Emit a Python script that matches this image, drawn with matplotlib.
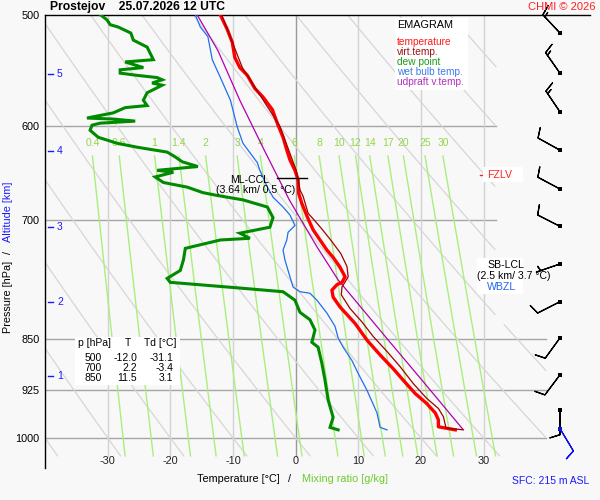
import numpy as np
import matplotlib
matplotlib.use('Agg')
import matplotlib.pyplot as plt
from matplotlib.patches import Rectangle
from matplotlib.ticker import NullLocator

plt.rcParams['font.family'] = ['Liberation Sans', 'DejaVu Sans']

# ---------------- data ----------------
temp_p = [500, 512, 523, 536, 545, 552, 564, 572, 584, 599, 611, 624, 634, 645, 655, 670, 681, 700, 711, 723,
          735, 744, 756, 768, 775, 778, 785, 794, 807, 829, 852, 873, 893, 910, 930, 945, 960, 971, 982, 985, 987]
temp_t = [-12.0, -10.9, -10.1, -9.7, -8.9, -7.7, -6.5, -5.2, -3.7, -2.8, -2.0, -1.4, -0.9, -0.1, 0.4, 0.5, 1.0, 2.1, 2.8, 3.9,
          5.0, 6.0, 7.1, 7.9, 7.4, 6.6, 5.8, 6.0, 7.1, 9.5, 11.4, 13.5, 15.6, 17.2, 19.1, 20.9, 22.3, 22.8, 22.8, 24.4, 25.5]

virt_p = [500, 545, 600, 645, 666, 673, 692, 700, 711, 723, 739, 755, 768, 781, 791, 809, 827, 847, 868, 890,
          915, 937, 953, 966, 979, 984, 987]
virt_t = [-11.8, -8.5, -2.5, 0.1, 0.7, 1.2, 2.0, 3.0, 4.3, 5.6, 7.2, 8.2, 8.4, 7.4, 7.3, 8.7, 10.6, 12.4, 14.6, 16.7,
          18.8, 20.9, 22.8, 23.6, 23.9, 24.0, 26.8]

dew_p = [500, 504, 508, 510, 515, 521, 527, 538, 540, 545, 547, 550, 552, 554, 556, 559, 561, 568, 575, 580,
         582, 587, 592, 593, 595, 597, 599, 604, 611, 617, 621, 626, 631, 636, 641, 645, 647, 652, 658, 663,
         669, 672, 677, 685, 697, 708, 715, 721, 723, 733, 747, 760, 770, 775, 782, 787, 798, 814, 824, 838,
         855, 862, 885, 910, 940, 967, 983, 987]
dew_t = [-31.1, -30.1, -29.6, -28.3, -26.3, -25.9, -23.7, -22.7, -27.2, -24.3, -28.0, -28.0, -25.3, -22.1, -21.3, -22.9, -21.3, -23.7, -24.3, -23.7,
         -27.2, -29.1, -33.3, -29.1, -25.6, -31.2, -32.5, -32.8, -31.5, -28.5, -25.3, -20.5, -19.2, -18.1, -15.6, -22.1, -19.5, -22.4, -21.1, -17.3,
         -14.8, -12.6, -8.4, -4.5, -3.6, -4.1, -8.9, -7.3, -12.0, -17.6, -17.9, -18.4, -20.5, -20.0, -9.3, -2.0, -0.1, 0.7, 2.3, 3.1,
         2.6, 3.6, 4.2, 4.7, 5.2, 6.0, 5.5, 6.8]

wet_p = [500, 510, 518, 538, 554, 575, 601, 617, 637, 645, 663, 674, 685, 694, 706, 714, 723, 735, 747, 760,
         781, 787, 789, 798, 815, 833, 849, 862, 881, 900, 925, 960, 983, 987]
wet_t = [-16.0, -15.2, -14.0, -13.3, -12.0, -10.4, -9.3, -8.4, -6.1, -5.7, -4.5, -3.6, -2.0, -0.9, -0.1, -1.2, -1.4, -2.0, -1.7, -1.2,
         -0.4, 0.7, 2.3, 3.4, 5.0, 6.3, 6.8, 7.6, 9.0, 10.0, 11.4, 13.0, 13.5, 14.6]

parcel_p = [500, 530, 575, 624, 677, 731, 772, 852, 910, 986]
parcel_t = [-15.7, -12.4, -8.9, -5.0, -1.0, 3.4, 6.8, 14.8, 20.2, 26.7]

pressure_levels = [500, 600, 700, 850, 925, 1000]
temp_ticks = [-30, -20, -10, 0, 10, 20, 30]
mixing_ratios = [0.4, 0.6, 1, 1.4, 2, 3, 4, 6, 8, 10, 12, 14, 17, 20, 25, 30]
mixing_labels = ['0.4', '0.6', '1', '1.4', '2', '3', '4', '6', '8', '10', '12', '14', '17', '20', '25', '30']
theta_lines = list(range(-40, 101, 10))

alt_km = [1, 2, 3, 4, 5]
alt_p = [903, 800, 708, 625, 551]

wind_p = [515, 550, 586, 624, 665, 707, 752, 800, 849, 902, 955, 986]
wind_dir = [317, 325, 326, 299, 298, 297, 251, 243, 216, 217, 180, 149]
wind_kt = [15, 15, 15, 10, 10, 10, 5, 10, 10, 10, 10, 10]

table_p = [500, 700, 850]
table_t = [-12.0, 2.2, 11.5]
table_td = [-31.1, -3.4, 3.1]

fzlv_p = 650
ccl_p = 653
lcl_p = 752
wbzl_p = 781

# ---------------- figure ----------------
W, H = 600, 500
fig = plt.figure(figsize=(6, 5), dpi=100)
BG = '#f8f8f8'
fig.patch.set_facecolor(BG)


def fx(px):
    return px / W


def fy(py):
    return 1 - py / H


ax = fig.add_axes([45 / W, 1 - 467.6 / H, 545 / W, 452.6 / H])
ax.set_facecolor('none')
ax.set_yscale('log')
ax.set_xlim(-40, 47)
ax.set_ylim(1050, 500)
for s in ['right', 'bottom']:
    ax.spines[s].set_visible(False)
for s in ['left', 'top']:
    ax.spines[s].set_color('black')
    ax.spines[s].set_linewidth(1.0)
ax.yaxis.set_minor_locator(NullLocator())
ax.set_yticks(pressure_levels)
ax.set_yticklabels([str(p) for p in pressure_levels])
ax.tick_params(axis='y', length=0, pad=4, labelsize=7.8)
ax.set_xticks([])

# isobars
for p in pressure_levels[1:]:
    tmax = 32 if p < 830 else 40
    ax.plot([-40, tmax], [p, p], color='#a6a6a6', lw=1.0, zorder=1)

# isotherms
for t in temp_ticks:
    ax.plot([t, t], [500, 1030], color='#9a9a9a' if t == 0 else '#d2d2d2', lw=1.0, zorder=1)
    ax.text(t, 1039, str(t), ha='center', va='center', fontsize=7.8, color='#222222')

# dry adiabats
pp = np.geomspace(500, 1030, 300)
for th in theta_lines:
    tt = (th + 273.15) * (pp / 1000.0) ** 0.286 - 273.15
    bad = (tt > 40) | ((tt > 32) & (pp < 830)) | (tt < -40)
    ax.plot(np.where(bad, np.nan, tt), pp, color='#d6d6d6', lw=0.9, zorder=1)

# mixing ratio lines
pm = np.geomspace(630, 1030, 60)
for w, lab in zip(mixing_ratios, mixing_labels):
    e = w * pm / (622.0 + w)
    lg = np.log(e / 6.112)
    td = 243.5 * lg / (17.67 - lg)
    ax.plot(td, pm, color='#a9ef7c', lw=1.0, zorder=1)
    ax.text(td[0], 617, lab, ha='center', va='center', fontsize=7.5, color='#93d64a', zorder=2)

# profiles
ax.plot(wet_t, wet_p, color='#1f6fee', lw=0.9, zorder=3)
ax.plot(dew_t, dew_p, color='#008a00', lw=2.2, zorder=4, solid_joinstyle='miter')
ax.plot(parcel_t, parcel_p, color='#b000b0', lw=0.9, zorder=4)
ax.plot(temp_t, temp_p, color='#ff0000', lw=2.4, zorder=5)
ax.plot(virt_t, virt_p, color='#a00000', lw=0.9, zorder=5)

# altitude ticks
ytr = ax.get_yaxis_transform()
for k, p in zip(alt_km, alt_p):
    ax.plot([0.005, 0.015], [p, p], color='#1a1aff', lw=1.0, transform=ytr, clip_on=False)
    ax.text(0.022, p, str(k), transform=ytr, color='#1a1aff', fontsize=7.5, va='center', ha='left')

# level annotations
ax.plot([-2.95, 1.84], [ccl_p, ccl_p], color='black', lw=1.0, zorder=6)
fig.text(fx(250), fy(180), 'ML-CCL', ha='center', va='center', fontsize=7.6)
fig.text(fx(256), fy(190), '(3.64 km/ 0.5 °C)', ha='center', va='center', fontsize=7.6)

fig.patches.append(Rectangle((fx(483), fy(182)), 40 / W, 15 / H, transform=fig.transFigure,
                             facecolor='white', edgecolor='none', zorder=0))
ax.plot([29.4, 30.2], [fzlv_p, fzlv_p], color='#ff2020', lw=1.0, zorder=6, clip_on=False)
fig.text(fx(487), fy(175), 'FZLV', ha='left', va='center', fontsize=7.6, color='#ff2020')

fig.patches.append(Rectangle((fx(477), fy(294)), 46 / W, 36 / H, transform=fig.transFigure,
                             facecolor='white', edgecolor='none', zorder=0))
ax.plot([29.4, 30.2], [lcl_p, lcl_p], color='black', lw=1.0, zorder=6, clip_on=False)
fig.text(fx(487), fy(265), 'SB-LCL', ha='left', va='center', fontsize=7.6)
fig.text(fx(477), fy(276), '(2.5 km/ 3.7 °C)', ha='left', va='center', fontsize=7.6)
ax.plot([29.4, 30.2], [wbzl_p, wbzl_p], color='#2266ee', lw=1.0, zorder=6, clip_on=False)
fig.text(fx(487), fy(287), 'WBZL', ha='left', va='center', fontsize=7.6, color='#2266ee')

# legend
fig.patches.append(Rectangle((fx(395), fy(90)), 73 / W, 72 / H, transform=fig.transFigure,
                             facecolor='white', edgecolor='none', zorder=0))
fig.text(fx(397), fy(25), 'EMAGRAM', ha='left', va='center', fontsize=7.8)
leg_items = [('temperature', '#ff1a1a'), ('virt.temp.', '#a01010'), ('dew point', '#1a9a1a'),
             ('wet bulb temp.', '#3a7cf0'), ('udpraft v.temp.', '#b030c0')]
for i, (name, col) in enumerate(leg_items):
    fig.text(fx(397), fy(42 + 10 * i), name, ha='left', va='center', fontsize=7.3, color=col)

# table
fig.patches.append(Rectangle((fx(75), fy(385)), 105 / W, 48 / H, transform=fig.transFigure,
                             facecolor='white', edgecolor='none', zorder=0))
fig.text(fx(78), fy(343), 'p [hPa]', ha='left', va='center', fontsize=7.5)
fig.text(fx(128), fy(343), 'T', ha='center', va='center', fontsize=7.5)
fig.text(fx(144), fy(343), 'Td [°C]', ha='left', va='center', fontsize=7.5)
for i, (p, t, td) in enumerate(zip(table_p, table_t, table_td)):
    yy = fy(358 + 10 * i)
    fig.text(fx(102), yy, f'{p}', ha='right', va='center', fontsize=7.5)
    fig.text(fx(137), yy, f'{t:.1f}', ha='right', va='center', fontsize=7.5)
    fig.text(fx(173), yy, f'{td:.1f}', ha='right', va='center', fontsize=7.5)

# wind barbs
barb_x = 42.2
wd = np.radians(wind_dir)
spd = np.array(wind_kt, dtype=float)
u = -spd * np.sin(wd)
v = -spd * np.cos(wd)
n = len(wind_p)
ax.barbs([barb_x] * (n - 1), wind_p[:-1], u[:-1], v[:-1], length=6, lw=0.9, color='black',
         zorder=6, clip_on=False)
ax.barbs([barb_x], wind_p[-1:], u[-1:], v[-1:], length=6, lw=0.9, color='#1010ee',
         zorder=6, clip_on=False)
ax.scatter([barb_x] * (n - 1), wind_p[:-1], marker='s', s=6, color='black', zorder=7, clip_on=False, linewidths=0)
ax.scatter([barb_x], wind_p[-1:], marker='s', s=6, color='#1010ee', zorder=7, clip_on=False, linewidths=0)

# titles and labels
fig.text(fx(50), fy(7), 'Prostejov    25.07.2026 12 UTC', ha='left', va='center', fontsize=8.7, fontweight='bold')
fig.text(fx(596), fy(7), 'CHMI © 2026', ha='right', va='center', fontsize=8, color='#ff2020')
fig.text(fx(197), fy(479), 'Temperature [°C]', ha='left', va='center', fontsize=7.8)
fig.text(fx(289), fy(479), '/', ha='center', va='center', fontsize=7.8)
fig.text(fx(302), fy(479), 'Mixing ratio [g/kg]', ha='left', va='center', fontsize=7.8, color='#6ccc2c')
fig.text(fx(8), fy(297), 'Pressure [hPa]', rotation=90, ha='center', va='center', fontsize=7.8)
fig.text(fx(8), fy(252), '/', rotation=90, ha='center', va='center', fontsize=7.8)
fig.text(fx(8), fy(212), 'Altitude [km]', rotation=90, ha='center', va='center', fontsize=7.8, color='#1a1aff')
fig.text(fx(551), fy(481), 'SFC: 215 m ASL', ha='center', va='center', fontsize=7.5, color='#1a1aff')

fig.savefig('out.png', dpi=100, facecolor=BG)
